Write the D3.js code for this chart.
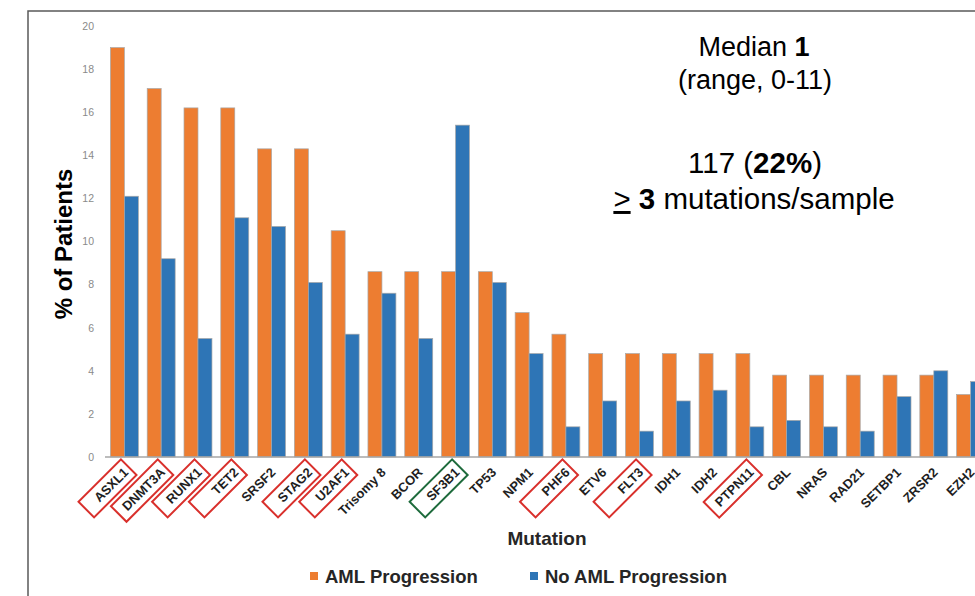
<!DOCTYPE html>
<html>
<head>
<meta charset="utf-8">
<script src="https://cdn.jsdelivr.net/npm/d3@7"></script>
<style>
  html, body { margin: 0; padding: 0; background: #fff; }
  svg { display: block; font-family: "Liberation Sans", Arial, sans-serif; }
</style>
</head>
<body>
<svg id="chart" width="975" height="596"></svg>
<script>
const categories = ["ASXL1","DNMT3A","RUNX1","TET2","SRSF2","STAG2","U2AF1","Trisomy 8","BCOR","SF3B1","TP53","NPM1","PHF6","ETV6","FLT3","IDH1","IDH2","PTPN11","CBL","NRAS","RAD21","SETBP1","ZRSR2","EZH2"];
const amlProgression   = [19.0,17.1,16.2,16.2,14.3,14.3,10.5,8.6,8.6,8.6,8.6,6.7,5.7,4.8,4.8,4.8,4.8,4.8,3.8,3.8,3.8,3.8,3.8,2.9];
const noAmlProgression = [12.1,9.2,5.5,11.1,10.7,8.1,5.7,7.6,5.5,15.4,8.1,4.8,1.4,2.6,1.2,2.6,3.1,1.4,1.7,1.4,1.2,2.8,4.0,3.5];
const seriesNames = ["AML Progression","No AML Progression"];
const yTickValues = [0,2,4,6,8,10,12,14,16,18,20];
const redBoxed = ["ASXL1","DNMT3A","RUNX1","TET2","STAG2","U2AF1","PHF6","FLT3","PTPN11"];
const greenBoxed = ["SF3B1"];

const colors = {"AML Progression":"#ED7D31","No AML Progression":"#2E75B6"};
const svg = d3.select("#chart");

// outer frame
svg.append("rect").attr("x",28).attr("y",11).attr("width",1000).attr("height",700)
  .attr("fill","none").attr("stroke","#595959").attr("stroke-width",1.5);

const x = d3.scaleBand().domain(categories).range([106, 989]).paddingInner(0.24).paddingOuter(0.12);
const xs = d3.scaleBand().domain(seriesNames).range([0, x.bandwidth()]);
const y = d3.scaleLinear().domain([0,20]).range([457, 26]);

// y axis
const yAxis = svg.append("g").attr("transform","translate(106,0)")
  .call(d3.axisLeft(y).tickValues(yTickValues).tickSize(0).tickPadding(12));
yAxis.select(".domain").remove();
yAxis.selectAll("text").attr("fill","#8a8a8a").style("font-size","10.5px").style("font-family","'Liberation Sans', Arial, sans-serif");

// bars
const rows = categories.map((c,i)=>({cat:c, vals:[{k:seriesNames[0], v:amlProgression[i]},{k:seriesNames[1], v:noAmlProgression[i]}]}));
const groups = svg.append("g").selectAll("g").data(rows).join("g")
  .attr("transform", d=>`translate(${x(d.cat)},0)`);
groups.selectAll("rect").data(d=>d.vals).join("rect")
  .attr("x", d=>xs(d.k)).attr("width", xs.bandwidth())
  .attr("y", d=>y(d.v)).attr("height", d=>y(0)-y(d.v))
  .attr("fill", d=>colors[d.k]).attr("stroke","#a8a8a8").attr("stroke-width",0.7);

// x axis line
const xAxis = svg.append("g").attr("transform",`translate(0,${y(0)})`)
  .call(d3.axisBottom(x).tickSize(0).tickSizeOuter(0).tickFormat(""));
xAxis.select(".domain").attr("stroke","#a6a6a6").attr("stroke-width",1.5)
  .attr("d", `M${x.range()[0]-1},0H${x.range()[1]}`);

// x tick labels, rotated, with boxes
const lab = svg.append("g").selectAll("g").data(categories).join("g")
  .attr("transform", d=>`translate(${x(d)+x.bandwidth()/2+1.5},470) rotate(-45)`);
lab.append("text").attr("text-anchor","end").attr("dy","0.35em")
  .attr("fill","#1f1f1f").style("font-weight","bold").style("font-size","13px")
  .text(d=>d);
lab.each(function(d){
  const isRed = redBoxed.includes(d), isGreen = greenBoxed.includes(d);
  if(!isRed && !isGreen) return;
  const w = d3.select(this).select("text").node().getComputedTextLength();
  const L = Math.max(60, w + 12);
  d3.select(this).insert("rect","text")
    .attr("x", 4 - L).attr("y", -11).attr("width", L).attr("height", 22)
    .attr("fill","none").attr("stroke", isGreen ? "#1E6B3C" : "#D9302C").attr("stroke-width",2);
});

// axis titles
svg.append("text").attr("transform","translate(72,244) rotate(-90)")
  .attr("text-anchor","middle").attr("fill","#000").style("font-weight","bold").style("font-size","24px")
  .text("%  of Patients");
svg.append("text").attr("x",547).attr("y",545).attr("text-anchor","middle")
  .attr("fill","#262626").style("font-weight","bold").style("font-size","19px").text("Mutation");

// legend
const legendX = [310, 530];
const leg = svg.append("g").selectAll("g").data(seriesNames).join("g")
  .attr("transform",(d,i)=>`translate(${legendX[i]},0)`);
leg.append("rect").attr("x",0).attr("y",572).attr("width",8).attr("height",8).attr("fill",d=>colors[d]);
leg.append("text").attr("x",15).attr("y",583).attr("fill","#262626")
  .style("font-weight","bold").style("font-size","18.5px").text(d=>d);

// annotations
const ann = svg.append("g").attr("fill","#000").attr("text-anchor","middle");
const t1 = ann.append("text").attr("x",754).attr("y",56).style("font-size","27px");
t1.append("tspan").text("Median ");
t1.append("tspan").style("font-weight","bold").text("1");
ann.append("text").attr("x",755).attr("y",89).style("font-size","27px").text("(range, 0-11)");
const t3 = ann.append("text").attr("x",755).attr("y",173).style("font-size","29.5px");
t3.append("tspan").text("117 (");
t3.append("tspan").style("font-weight","bold").text("22%");
t3.append("tspan").text(")");
const t4 = ann.append("text").attr("x",754).attr("y",209).style("font-size","29.5px");
t4.append("tspan").style("text-decoration","underline").text(">");
t4.append("tspan").text(" ");
t4.append("tspan").style("font-weight","bold").text("3");
t4.append("tspan").text(" mutations/sample");
</script>
</body>
</html>
